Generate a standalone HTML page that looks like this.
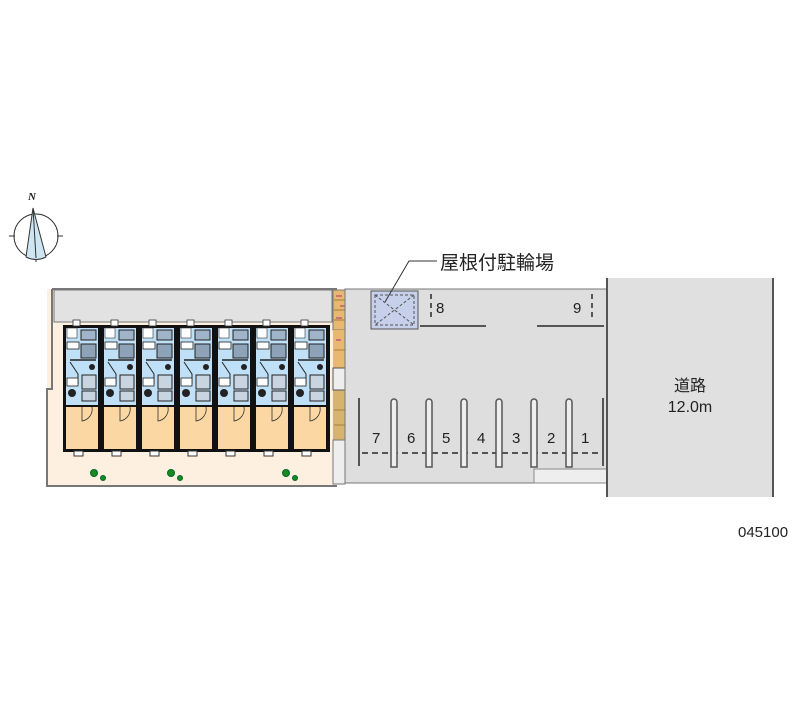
<!DOCTYPE html>
<html><head><meta charset="utf-8"><style>html,body{margin:0;padding:0;background:#fff}svg{display:block}</style></head>
<body>
<svg width="800" height="727" viewBox="0 0 800 727" xmlns="http://www.w3.org/2000/svg" font-family="'Liberation Sans','Noto Sans CJK JP',sans-serif">
<!-- compass -->
<g stroke="#333" stroke-width="1" fill="none">
<circle cx="36" cy="236" r="22"/>
<line x1="9" y1="236" x2="15" y2="236"/><line x1="57" y1="236" x2="63" y2="236"/>
<line x1="36" y1="256" x2="36" y2="262"/>
<path d="M33 208 L26 257 Q36 262 46 257 Z" fill="#cde6f2"/>
<line x1="33" y1="208" x2="36" y2="258"/>
</g>
<text x="28" y="200" font-size="11" font-style="italic" font-weight="bold" font-family="'Liberation Serif',serif" fill="#222">N</text>
<!-- left lot -->
<rect x="47" y="289" width="290" height="197" fill="#fdf0e1"/>
<rect x="54" y="290" width="278" height="32" fill="#e2e2e2" stroke="#777"/>
<path d="M52 289 V389 H47 V486 H337" stroke="#777" stroke-width="2" fill="none"/>
<line x1="52" y1="289" x2="337" y2="289" stroke="#777" stroke-width="2"/>
<!-- units -->
<g>
<rect x="63" y="325" width="267" height="127" fill="#111"/>
<g id="u">
<rect x="66" y="328" width="32" height="77" fill="#bfe0f7"/>
<rect x="66" y="407" width="32" height="42" fill="#fbd7a4"/>
<rect x="67" y="328" width="10" height="10" fill="#fff" stroke="#333" stroke-width="0.6"/>
<rect x="81" y="330" width="15" height="10" fill="#9fb4c8" stroke="#222"/>
<rect x="67" y="342" width="12" height="7" fill="#fff" stroke="#222" stroke-width="0.8"/>
<rect x="81" y="344" width="15" height="14" fill="#8ea3b8" stroke="#222"/>
<line x1="70" y1="360" x2="96" y2="360" stroke="#222" stroke-width="1.5"/>
<circle cx="92" cy="367" r="3" fill="#222"/>
<path d="M70 362 l8 12 v10" stroke="#222" fill="none"/>
<rect x="82" y="375" width="14" height="14" fill="#c8d4e0" stroke="#222"/>
<rect x="82" y="391" width="14" height="10" fill="#c8d4e0" stroke="#222"/>
<rect x="67" y="378" width="11" height="8" fill="#fff" stroke="#222" stroke-width="0.8"/>
<circle cx="72" cy="393" r="4" fill="#222"/>
<path d="M82 407 v14 a12 12 0 0 0 10 -14" fill="none" stroke="#333" stroke-width="0.8"/>
<rect x="74" y="451" width="9" height="5" fill="#fff" stroke="#333"/>
<rect x="73" y="320" width="7" height="6" fill="#fff" stroke="#333" stroke-width="0.8"/>
</g>
<use href="#u" x="38"/><use href="#u" x="76"/><use href="#u" x="114"/>
<use href="#u" x="152"/><use href="#u" x="190"/><use href="#u" x="228"/>
</g>
<!-- shrubs -->
<g fill="#1a8a1a" stroke="#063" stroke-width="1">
<circle cx="94" cy="473" r="3.5"/><circle cx="103" cy="478" r="2.5"/>
<circle cx="171" cy="473" r="3.5"/><circle cx="180" cy="478" r="2.5"/>
<circle cx="286" cy="473" r="3.5"/><circle cx="295" cy="478" r="2.5"/>
</g>
<!-- brick -->
<rect x="333" y="290" width="36" height="40" fill="#e8b870" stroke="#777"/>
<rect x="333" y="330" width="12" height="38" fill="#e8b870"/>
<rect x="333" y="390" width="12" height="50" fill="#d6b46e"/>
<rect x="333" y="368" width="12" height="22" fill="#eee" stroke="#555"/>
<g stroke="#c0557a" stroke-width="1.4">
<line x1="336" y1="296" x2="342" y2="296"/><line x1="350" y1="300" x2="356" y2="300"/><line x1="340" y1="306" x2="346" y2="306"/><line x1="354" y1="312" x2="360" y2="312"/><line x1="336" y1="318" x2="342" y2="318"/><line x1="348" y1="324" x2="354" y2="324"/><line x1="336" y1="340" x2="341" y2="340"/>
</g>
<g stroke="#8a6a30" stroke-width="0.7"><line x1="334" y1="300" x2="369" y2="300"/><line x1="334" y1="310" x2="369" y2="310"/><line x1="334" y1="320" x2="369" y2="320"/><line x1="334" y1="350" x2="345" y2="350"/><line x1="334" y1="410" x2="345" y2="410"/><line x1="334" y1="425" x2="345" y2="425"/></g>
<!-- parking -->
<rect x="345" y="289" width="262" height="194" fill="#dedede" stroke="#777"/>
<rect x="333" y="440" width="12" height="44" fill="#eee" stroke="#777"/>
<rect x="371" y="291" width="47" height="38" fill="#c7d0ea" stroke="#555"/>
<g stroke="#555" stroke-dasharray="3 2" fill="none"><rect x="375" y="295" width="39" height="30"/><line x1="375" y1="295" x2="414" y2="325"/><line x1="414" y1="295" x2="375" y2="325"/></g>
<rect x="534" y="469" width="73" height="14" fill="#eee" stroke="#888"/>
<g stroke="#555" stroke-width="2" fill="none">
<line x1="420" y1="326" x2="486" y2="326"/><line x1="537" y1="326" x2="604" y2="326"/>
<line x1="431" y1="294" x2="431" y2="320" stroke-dasharray="5 4"/>
<line x1="592" y1="294" x2="592" y2="320" stroke-dasharray="5 4"/>
<line x1="359" y1="398" x2="359" y2="466"/><line x1="603" y1="398" x2="603" y2="466"/>
<line x1="362" y1="453" x2="600" y2="453" stroke-dasharray="6 4"/>
</g>
<g stroke="#555" stroke-width="1.5" fill="#eee">
<path d="M391 467 V402 a3 3 0 0 1 6 0 V467 Z"/>
<path d="M426 467 V402 a3 3 0 0 1 6 0 V467 Z"/>
<path d="M461 467 V402 a3 3 0 0 1 6 0 V467 Z"/>
<path d="M496 467 V402 a3 3 0 0 1 6 0 V467 Z"/>
<path d="M531 467 V402 a3 3 0 0 1 6 0 V467 Z"/>
<path d="M566 467 V402 a3 3 0 0 1 6 0 V467 Z"/>
</g>
<g font-size="15" fill="#222">
<text x="372" y="443">7</text><text x="407" y="443">6</text><text x="442" y="443">5</text><text x="477" y="443">4</text><text x="512" y="443">3</text><text x="547" y="443">2</text><text x="581" y="443">1</text>
<text x="436" y="313">8</text><text x="573" y="313">9</text>
</g>
<!-- road -->
<rect x="607" y="278" width="166" height="219" fill="#e0e0e0"/>
<line x1="607" y1="278" x2="607" y2="497" stroke="#555" stroke-width="2"/>
<line x1="773" y1="278" x2="773" y2="497" stroke="#555" stroke-width="2"/>
<text x="690" y="391" font-size="16" text-anchor="middle" fill="#222">道路</text>
<text x="690" y="412" font-size="16" text-anchor="middle" fill="#222">12.0m</text>
<!-- label -->
<path d="M437 261 H409 L385 302" stroke="#333" fill="none"/>
<text x="440" y="269" font-size="19" fill="#222">屋根付駐輪場</text>
<text x="738" y="537" font-size="15" fill="#222">045100</text>
</svg>
</body></html>
